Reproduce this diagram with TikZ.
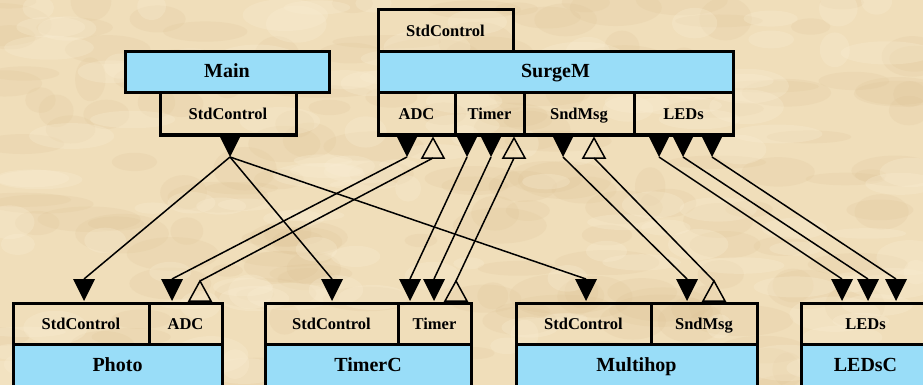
\documentclass[tikz,border=0pt]{standalone}
\usepackage{fontspec}
\setmainfont{Liberation Serif}
\definecolor{parch}{RGB}{240,222,186}
\definecolor{parchdark}{RGB}{222,196,152}
\definecolor{parchlight}{RGB}{250,238,212}
\definecolor{nameblue}{RGB}{153,221,248}
\begin{document}
\begin{tikzpicture}[x=1pt,y=-1pt,
  namebox/.style={draw, line width=3pt, fill=nameblue, inner sep=0pt,
    text height=10pt, text depth=0pt,
    font=\bfseries\fontsize{20}{22}\selectfont},
  portbox/.style={draw, line width=3pt, inner sep=0pt,
    text height=11pt, text depth=0pt,
    font=\bfseries\fontsize{16.5}{18}\selectfont},
  wire/.style={line width=1.5pt},
  reqdown/.pic={
    \fill (-11,0) -- (11,0) -- (0,22) -- cycle;
    \coordinate (-top) at (0,0);
    \coordinate (-tip) at (0,22);
  },
  provup/.pic={
    \draw[line width=1.5pt, line join=miter] (0,0) -- (-11,20) -- (11,20) -- cycle;
    \coordinate (-apex) at (0,0);
    \coordinate (-base) at (0,20);
  },
]
\useasboundingbox (0,0) rectangle (923,385);
\clip (0,0) rectangle (923,385);

% parchment background
\fill[parch] (0,0) rectangle (923,385);
\pgfmathsetseed{11}
\foreach \i in {1,...,170}{
  \pgfmathsetmacro\bx{rnd*923}
  \pgfmathsetmacro\by{rnd*385}
  \pgfmathsetmacro\rx{15+rnd*40}
  \pgfmathsetmacro\ry{6+rnd*16}
  \fill[parchdark, opacity=0.2] (\bx,\by) ellipse [x radius=\rx, y radius=\ry];
}
\foreach \i in {1,...,130}{
  \pgfmathsetmacro\bx{rnd*923}
  \pgfmathsetmacro\by{rnd*385}
  \pgfmathsetmacro\rx{12+rnd*35}
  \pgfmathsetmacro\ry{5+rnd*14}
  \fill[parchlight, opacity=0.28] (\bx,\by) ellipse [x radius=\rx, y radius=\ry];
}

% Main
\node[namebox, minimum width=204pt, minimum height=41pt] (mainN) at (227,72.5) {Main};
\node[portbox, minimum width=136pt, minimum height=42pt] (mainSC) at (228,114) {StdControl};

% SurgeM
\node[portbox, minimum width=135pt, minimum height=42pt] (surgeSC) at (445.5,31) {StdControl};
\node[namebox, minimum width=355pt, minimum height=41pt] (surgeN) at (555.5,72.5) {SurgeM};
\node[portbox, minimum width=77pt, minimum height=42pt] (surgeADC) at (416.5,114) {ADC};
\node[portbox, minimum width=69pt, minimum height=42pt] (surgeTimer) at (489.5,114) {Timer};
\node[portbox, minimum width=110pt, minimum height=42pt] (surgeSnd) at (579,114) {SndMsg};
\node[portbox, minimum width=99pt, minimum height=42pt] (surgeLEDs) at (683.5,114) {LEDs};

% Photo
\node[namebox, minimum width=209pt, minimum height=44pt] (photoN) at (117.5,366) {Photo};
\node[portbox, minimum width=136pt, minimum height=41pt] (photoSC) at (81,323.5) {StdControl};
\node[portbox, minimum width=73pt, minimum height=41pt] (photoADC) at (185.5,323.5) {ADC};

% TimerC
\node[namebox, minimum width=206pt, minimum height=44pt] (timerN) at (368,366) {TimerC};
\node[portbox, minimum width=133pt, minimum height=41pt] (timerSC) at (331.5,323.5) {StdControl};
\node[portbox, minimum width=73pt, minimum height=41pt] (timerT) at (434.5,323.5) {Timer};

% Multihop
\node[namebox, minimum width=241pt, minimum height=44pt] (multiN) at (636.5,366) {Multihop};
\node[portbox, minimum width=135pt, minimum height=41pt] (multiSC) at (583.5,323.5) {StdControl};
\node[portbox, minimum width=106pt, minimum height=41pt] (multiSnd) at (704,323.5) {SndMsg};

% LEDsC
\node[namebox, minimum width=129pt, minimum height=44pt] (ledsN) at (865.5,366) {LEDsC};
\node[portbox, minimum width=129pt, minimum height=41pt] (ledsP) at (865.5,323.5) {LEDs};

% used-interface marks under the upper components
\pic (tMain) at (230,135) {reqdown};
\pic (tSADC) at (407,135) {reqdown};
\pic (tST1) at (467,135) {reqdown};
\pic (tST2) at (491,135) {reqdown};
\pic (tSSnd) at (563,135) {reqdown};
\pic (tSL1) at (659,135) {reqdown};
\pic (tSL2) at (683,135) {reqdown};
\pic (tSL3) at (712,135) {reqdown};

% provided-interface marks under SurgeM
\pic (uSADC) at (433,138) {provup};
\pic (uST) at (514,138) {provup};
\pic (uSSnd) at (594,138) {provup};

% arrival marks above the lower components
\pic (bPSC) at (84,279) {reqdown};
\pic (bPADC) at (172,279) {reqdown};
\pic (bTSC) at (332,279) {reqdown};
\pic (bTT1) at (410,279) {reqdown};
\pic (bTT2) at (434,279) {reqdown};
\pic (bMSC) at (586,279) {reqdown};
\pic (bMSnd) at (687,279) {reqdown};
\pic (bL1) at (842,279) {reqdown};
\pic (bL2) at (868,279) {reqdown};
\pic (bL3) at (896,279) {reqdown};

% provided-interface marks above the lower components
\pic (oPADC) at (200,281) {provup};
\pic (oTT) at (456,281) {provup};
\pic (oMSnd) at (714,281) {provup};

% wiring
\draw[wire] (tMain-tip) -- (bPSC-top);
\draw[wire] (tMain-tip) -- (bTSC-top);
\draw[wire] (tMain-tip) -- (bMSC-top);
\draw[wire] (tSADC-tip) -- (bPADC-top);
\draw[wire] (oPADC-apex) -- (uSADC-base);
\draw[wire] (tST1-tip) -- (bTT1-top);
\draw[wire] (tST2-tip) -- (bTT2-top);
\draw[wire] (oTT-apex) -- (uST-base);
\draw[wire] (tSSnd-tip) -- (bMSnd-top);
\draw[wire] (oMSnd-apex) -- (uSSnd-base);
\draw[wire] (tSL1-tip) -- (bL1-top);
\draw[wire] (tSL2-tip) -- (bL2-top);
\draw[wire] (tSL3-tip) -- (bL3-top);
\end{tikzpicture}
\end{document}
